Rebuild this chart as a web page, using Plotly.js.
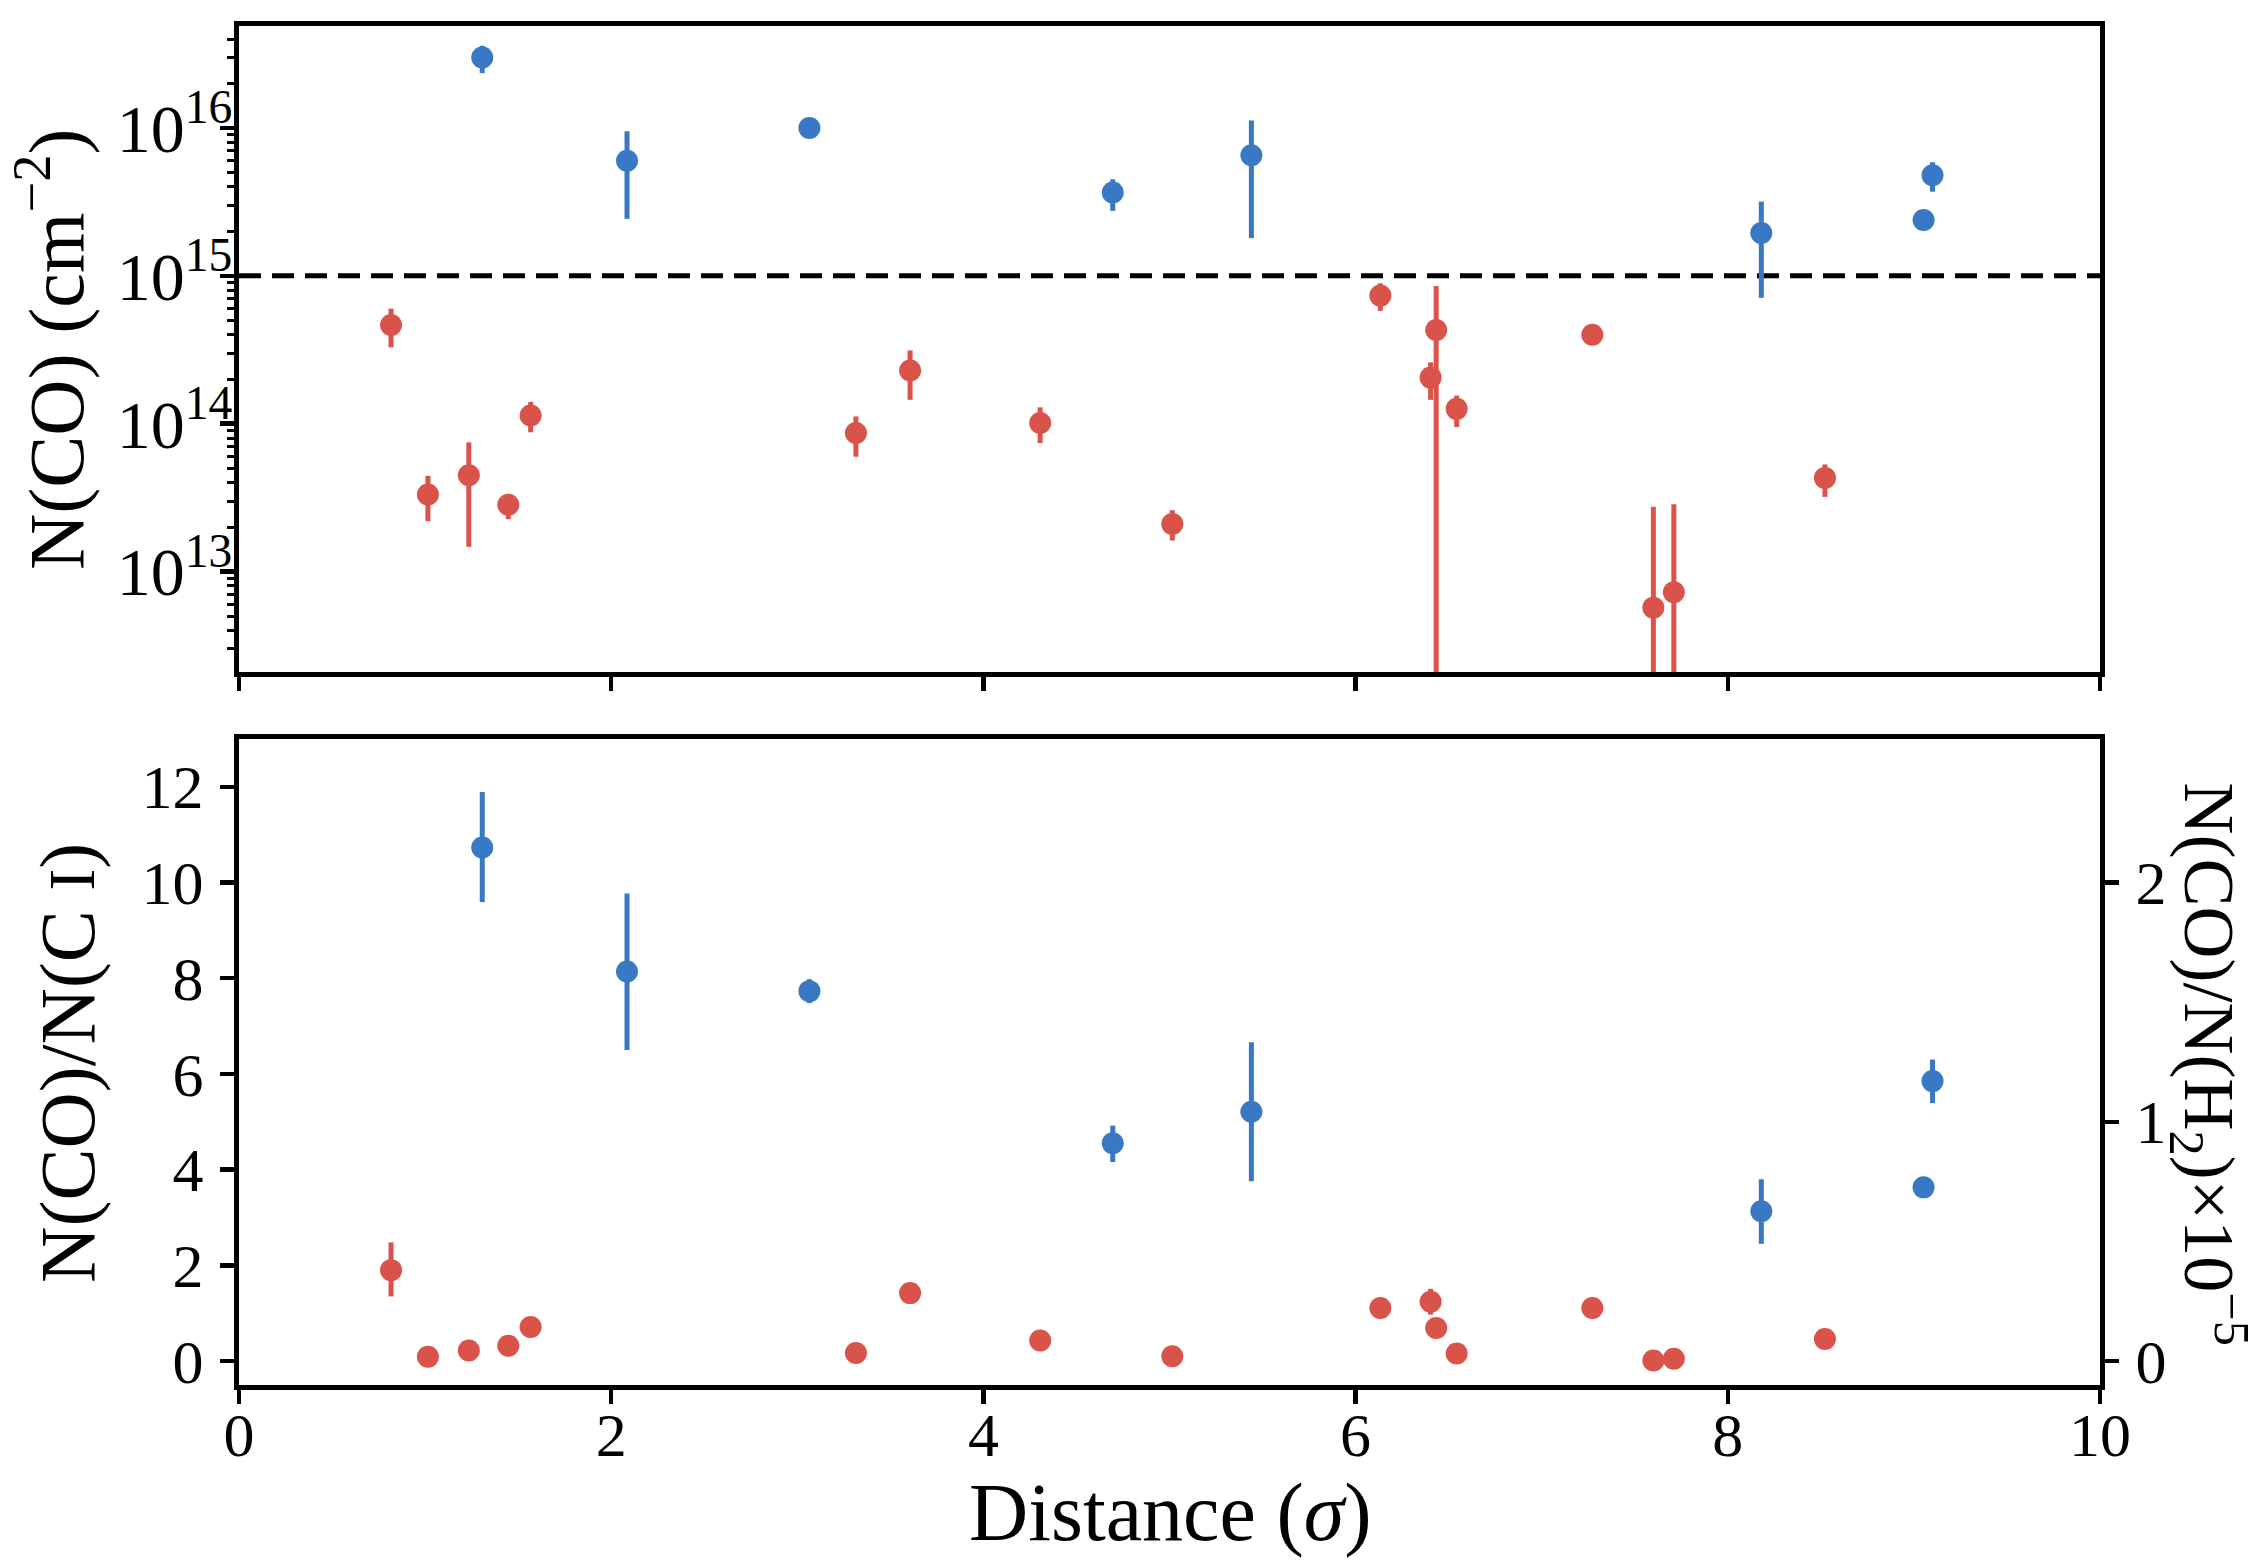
<!DOCTYPE html>
<html><head><meta charset="utf-8">
<script src="https://cdn.plot.ly/plotly-3.0.1.min.js"></script>
<style>html,body{margin:0;padding:0;background:#fff}#chart{width:2258px;height:1568px}</style>
</head><body><div id="chart"></div>
<script>
// ---- data ----
const blueX = [1.307, 2.085, 3.065, 4.695, 5.44, 8.18, 9.052, 9.10];
const blueNCO = [3.0e16, 6.0e15, 1.0e16, 3.66e15, 6.55e15, 1.95e15, 2.39e15, 4.79e15];
const blueNCOErrPlus = [0.6e16, 3.5e15, 0, 0.84e15, 4.7e15, 1.23e15, 0, 1.08e15];
const blueNCOErrMinus = [0.65e16, 3.57e15, 0, 0.91e15, 4.75e15, 1.24e15, 0, 1.08e15];
const blueRatio = [10.73, 8.14, 7.73, 4.55, 5.21, 3.13, 3.63, 5.85];
const blueRatioErrPlus = [1.16, 1.63, 0.25, 0.37, 1.45, 0.67, 0, 0.45];
const blueRatioErrMinus = [1.14, 1.64, 0.25, 0.39, 1.45, 0.68, 0, 0.46];

const redX = [0.817, 1.015, 1.235, 1.447, 1.567, 3.315, 3.606, 4.305, 5.015, 6.133, 6.403, 6.433, 6.543, 7.272, 7.60, 7.71, 8.522];
const redNCO = [4.65e14, 3.32e13, 4.48e13, 2.83e13, 1.135e14, 8.65e13, 2.29e14, 1.01e14, 2.1e13, 7.35e14, 2.05e14, 4.3e14, 1.26e14, 4.0e14, 5.7e12, 7.24e12, 4.3e13];
const redNCOErrPlus = [1.35e14, 1.12e13, 3.0e13, 0.45e13, 0.27e14, 2.55e13, 0.84e14, 0.28e14, 0.5e13, 1.55e14, 0.55e14, 4.25e14, 0.29e14, 0.4e14, 2.17e13, 2.13e13, 1.0e13];
const redNCOErrMinus = [1.37e14, 1.13e13, 3.01e13, 0.57e13, 0.26e14, 2.67e13, 0.84e14, 0.27e14, 0.48e13, 1.55e14, 0.6e14, 4.29e14, 0.31e14, 0.4e14, 4.7e12, 6.24e12, 1.1e13];
const redRatio = [1.90, 0.09, 0.22, 0.32, 0.71, 0.17, 1.42, 0.43, 0.10, 1.11, 1.24, 0.69, 0.16, 1.11, 0.01, 0.05, 0.46];
const redRatioErrPlus = [0.58, 0, 0, 0, 0, 0, 0, 0, 0, 0, 0.27, 0, 0, 0, 0, 0, 0];
const redRatioErrMinus = [0.55, 0, 0, 0, 0, 0, 0, 0, 0, 0, 0.27, 0, 0, 0, 0, 0, 0];

const thresholdNCO = 1e15;
const xRange = [0, 10];
const xTicks = [0, 2, 4, 6, 8, 10];
const logTickExponents = [13, 14, 15, 16];
const leftTicks = [0, 2, 4, 6, 8, 10, 12];
const rightTicks = [0, 1, 2];

// ---- styling ----
const BLUE = '#3878c4';
const RED = '#da534b';
const FONT = 'Liberation Serif, DejaVu Serif, serif';
const TICKFONT = {family: FONT, size: 62, color: '#000'};
const LW = 5;

function errs(plus, minus, color) {
  return {type: 'data', symmetric: false, array: plus, arrayminus: minus,
          color: color, thickness: 5, width: 0, visible: true};
}
const mk = c => ({size: 22, color: c, line: {width: 0}});

const traces = [
  {x: xRange, y: [thresholdNCO, thresholdNCO], mode: 'lines', xaxis: 'x', yaxis: 'y',
   line: {color: '#000', width: 5, dash: '22px,11px'}, hoverinfo: 'skip'},
  {x: redX, y: redNCO, mode: 'markers', xaxis: 'x', yaxis: 'y', marker: mk(RED),
   error_y: errs(redNCOErrPlus, redNCOErrMinus, RED)},
  {x: blueX, y: blueNCO, mode: 'markers', xaxis: 'x', yaxis: 'y', marker: mk(BLUE),
   error_y: errs(blueNCOErrPlus, blueNCOErrMinus, BLUE)},
  {x: redX, y: redRatio, mode: 'markers', xaxis: 'x2', yaxis: 'y2', marker: mk(RED),
   error_y: errs(redRatioErrPlus, redRatioErrMinus, RED)},
  {x: blueX, y: blueRatio, mode: 'markers', xaxis: 'x2', yaxis: 'y2', marker: mk(BLUE),
   error_y: errs(blueRatioErrPlus, blueRatioErrMinus, BLUE)},
  // empty trace so that the right-hand secondary axis is created and drawn
  {x: [], y: [], mode: 'markers', xaxis: 'x2', yaxis: 'y3', hoverinfo: 'skip'}
];

const axBase = {showgrid: false, zeroline: false, showline: true, linecolor: '#000', linewidth: LW,
  ticks: 'outside', ticklen: 14, tickwidth: 4.5, tickcolor: '#000', tickfont: TICKFONT, automargin: false};

const topDom = [0.5246, 1];
const botDom = [0, 0.4754];

const layout = {
  width: 2258, height: 1568,
  margin: {l: 239, r: 158, t: 26, b: 183},
  paper_bgcolor: '#fff', plot_bgcolor: '#fff',
  showlegend: false,
  font: {family: FONT, color: '#000'},
  xaxis: Object.assign({}, axBase, {domain: [0, 1], anchor: 'y', range: xRange, tickmode: 'array',
    tickvals: xTicks, showticklabels: false, mirror: true}),
  yaxis: Object.assign({}, axBase, {domain: topDom, anchor: 'x', type: 'log', range: [12.32, 16.69],
    tickmode: 'array', tickvals: logTickExponents.map(e => Math.pow(10, e)),
    ticktext: logTickExponents.map(e => '10<sup>' + e + '</sup>'),
    tickfont: {family: FONT, size: 68, color: '#000'},
    mirror: true, ticklabelstandoff: -26,
    minor: {ticks: 'outside', ticklen: 7, tickwidth: 3, tickcolor: '#000', dtick: 'D1', showgrid: false}}),
  xaxis2: Object.assign({}, axBase, {domain: [0, 1], anchor: 'y2', range: xRange, tickmode: 'array',
    tickvals: xTicks, ticktext: xTicks.map(String), mirror: true, ticklabelstandoff: -22}),
  yaxis2: Object.assign({}, axBase, {domain: botDom, anchor: 'x2', range: [-0.5, 13.0], tickmode: 'array',
    tickvals: leftTicks, ticktext: leftTicks.map(String), ticklabelstandoff: 4, mirror: true}),
  yaxis3: Object.assign({}, axBase, {domain: botDom, anchor: 'x2', overlaying: 'y2', side: 'right', range: [-0.1, 2.6],
    tickmode: 'array', tickvals: rightTicks, ticktext: rightTicks.map(String), ticklabelstandoff: 4}),
  annotations: [
    {text: 'N(CO) (cm<sup>−2</sup>)', xref: 'paper', yref: 'paper', x: -0.1016, y: (topDom[0] + topDom[1]) / 2,
     xanchor: 'center', yanchor: 'middle', textangle: -90, showarrow: false, font: {family: FONT, size: 78, color: '#000'}},
    {text: 'N(CO)/N(C <span style="font-size:66px">I</span>)', xref: 'paper', yref: 'paper', x: -0.0919, y: 0.237,
     xanchor: 'center', yanchor: 'middle', textangle: -90, showarrow: false, font: {family: FONT, size: 78, color: '#000'}},
    {text: 'N(CO)/N(H<sub>2</sub>)×10<sup>−5</sup>', xref: 'paper', yref: 'paper', x: 1.059, y: 0.236,
     xanchor: 'center', yanchor: 'middle', textangle: 90, showarrow: false, font: {family: FONT, size: 72, color: '#000'}},
    {text: 'Distance (<i>σ</i>)', xref: 'paper', yref: 'paper', x: 0.5, y: -0.0935,
     xanchor: 'center', yanchor: 'middle', showarrow: false, font: {family: FONT, size: 82, color: '#000'}}
  ]
};

Plotly.newPlot('chart', traces, layout, {staticPlot: true, displayModeBar: false});
</script>
</body></html>
